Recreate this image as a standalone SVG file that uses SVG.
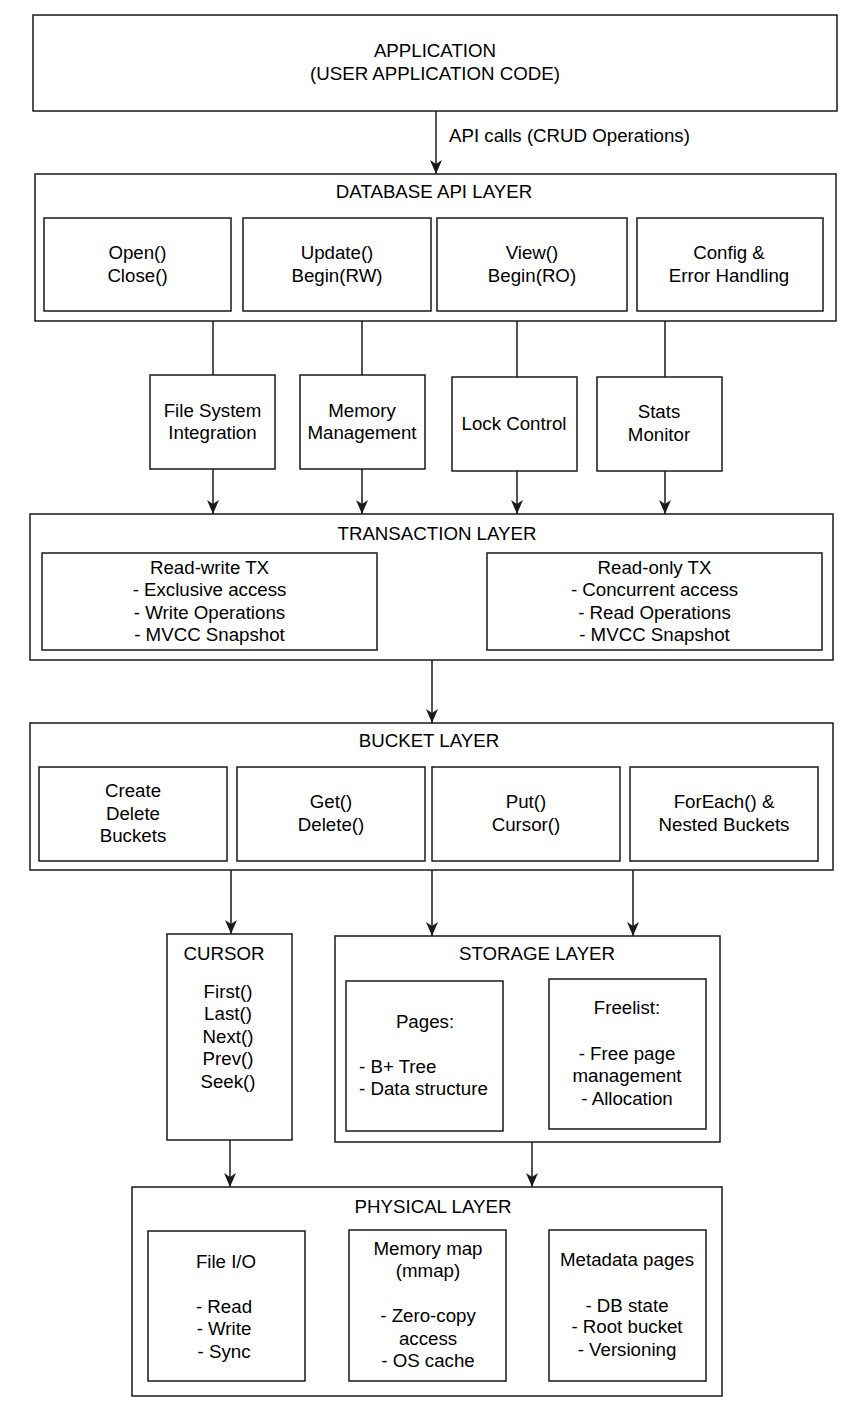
<svg xmlns="http://www.w3.org/2000/svg" width="864" height="1410" viewBox="0 0 864 1410">
<style>
  .box { fill: #ffffff; stroke: #1a1a1a; stroke-width: 1.5; }
  .t { font-family: "Liberation Sans", Arial, Helvetica, sans-serif; font-size: 18.7px; fill: #000; text-anchor: middle; }
  .l { text-anchor: start; }
  .c { stroke: #1a1a1a; stroke-width: 1.5; fill: none; }
  .a { marker-end: url(#arr); }
</style>
<defs>
  <marker id="arr" markerUnits="userSpaceOnUse" markerWidth="14" markerHeight="12" viewBox="0 0 14 12" refX="14" refY="6" orient="auto">
    <path d="M0,0 L14,6 L0,12 L4,6 z" fill="#1a1a1a"/>
  </marker>
</defs>
<rect width="864" height="1410" fill="#ffffff"/>

<g id="application">
  <rect class="box" x="33" y="15" width="804" height="96"/>
  <text class="t" x="435" y="57">APPLICATION</text>
  <text class="t" x="435" y="80">(USER APPLICATION CODE)</text>
</g>

<g id="db-api-layer">
  <rect class="box" x="35" y="174" width="801" height="147"/>
  <text class="t" x="434" y="198">DATABASE API LAYER</text>
  <g id="open-close">
    <rect class="box" x="44" y="218" width="187" height="93"/>
    <text class="t" x="137.5" y="259">Open()</text>
    <text class="t" x="137.5" y="282">Close()</text>
  </g>
  <g id="update">
    <rect class="box" x="243" y="218" width="188" height="93"/>
    <text class="t" x="337" y="259">Update()</text>
    <text class="t" x="337" y="282">Begin(RW)</text>
  </g>
  <g id="view">
    <rect class="box" x="437" y="218" width="190" height="93"/>
    <text class="t" x="532" y="259">View()</text>
    <text class="t" x="532" y="282">Begin(RO)</text>
  </g>
  <g id="config">
    <rect class="box" x="637" y="218" width="186" height="93"/>
    <text class="t" x="729" y="259">Config &amp;</text>
    <text class="t" x="729" y="282">Error Handling</text>
  </g>
</g>

<g id="fs-integration">
  <rect class="box" x="150" y="375" width="125" height="94"/>
  <text class="t" x="212.5" y="417">File System</text>
  <text class="t" x="212.5" y="439">Integration</text>
</g>
<g id="memory-management">
  <rect class="box" x="300" y="375" width="125" height="94"/>
  <text class="t" x="362" y="417">Memory</text>
  <text class="t" x="362" y="439">Management</text>
</g>
<g id="lock-control">
  <rect class="box" x="452" y="377" width="125" height="94"/>
  <text class="t" x="514" y="430">Lock Control</text>
</g>
<g id="stats-monitor">
  <rect class="box" x="597" y="377" width="125" height="94"/>
  <text class="t" x="659" y="418">Stats</text>
  <text class="t" x="659" y="441">Monitor</text>
</g>

<g id="transaction-layer">
  <rect class="box" x="30" y="514" width="803" height="146"/>
  <text class="t" x="437" y="540">TRANSACTION LAYER</text>
  <g id="rw-tx">
    <rect class="box" x="42" y="553" width="335" height="97"/>
    <text class="t" x="209.5" y="574">Read-write TX</text>
    <text class="t" x="209.5" y="596">- Exclusive access</text>
    <text class="t" x="209.5" y="619">- Write Operations</text>
    <text class="t" x="209.5" y="641">- MVCC Snapshot</text>
  </g>
  <g id="ro-tx">
    <rect class="box" x="487" y="553" width="335" height="97"/>
    <text class="t" x="654.5" y="574">Read-only TX</text>
    <text class="t" x="654.5" y="596">- Concurrent access</text>
    <text class="t" x="654.5" y="619">- Read Operations</text>
    <text class="t" x="654.5" y="641">- MVCC Snapshot</text>
  </g>
</g>

<g id="bucket-layer">
  <rect class="box" x="30" y="723" width="803" height="147"/>
  <text class="t" x="429" y="747">BUCKET LAYER</text>
  <g id="create-delete">
    <rect class="box" x="39" y="767" width="188" height="94"/>
    <text class="t" x="133" y="797">Create</text>
    <text class="t" x="133" y="820">Delete</text>
    <text class="t" x="133" y="842">Buckets</text>
  </g>
  <g id="get-delete">
    <rect class="box" x="237" y="767" width="188" height="94"/>
    <text class="t" x="331" y="808">Get()</text>
    <text class="t" x="331" y="831">Delete()</text>
  </g>
  <g id="put-cursor">
    <rect class="box" x="432" y="767" width="188" height="94"/>
    <text class="t" x="526" y="808">Put()</text>
    <text class="t" x="526" y="831">Cursor()</text>
  </g>
  <g id="foreach">
    <rect class="box" x="630" y="767" width="188" height="94"/>
    <text class="t" x="724" y="808">ForEach() &amp;</text>
    <text class="t" x="724" y="831">Nested Buckets</text>
  </g>
</g>

<g id="cursor">
  <rect class="box" x="167" y="934" width="125" height="206"/>
  <text class="t" x="224" y="960">CURSOR</text>
  <text class="t" x="228" y="998">First()</text>
  <text class="t" x="228" y="1020">Last()</text>
  <text class="t" x="228" y="1043">Next()</text>
  <text class="t" x="228" y="1065">Prev()</text>
  <text class="t" x="228" y="1088">Seek()</text>
</g>

<g id="storage-layer">
  <rect class="box" x="335" y="936" width="385" height="206"/>
  <text class="t" x="537" y="960">STORAGE LAYER</text>
  <g id="pages">
    <rect class="box" x="346" y="981" width="157" height="150"/>
    <text class="t" x="425" y="1028">Pages:</text>
    <text class="t l" x="359" y="1073">- B+ Tree</text>
    <text class="t l" x="359" y="1095">- Data structure</text>
  </g>
  <g id="freelist">
    <rect class="box" x="549" y="979" width="157" height="150"/>
    <text class="t" x="627" y="1014">Freelist:</text>
    <text class="t" x="627" y="1060">- Free page</text>
    <text class="t" x="627" y="1082">management</text>
    <text class="t" x="627" y="1105">- Allocation</text>
  </g>
</g>

<g id="physical-layer">
  <rect class="box" x="132" y="1187" width="590" height="209"/>
  <text class="t" x="433" y="1213">PHYSICAL LAYER</text>
  <g id="file-io">
    <rect class="box" x="148" y="1231" width="157" height="150"/>
    <text class="t" x="226" y="1268">File I/O</text>
    <text class="t" x="224" y="1313">- Read</text>
    <text class="t" x="224" y="1335">- Write</text>
    <text class="t" x="224" y="1358">- Sync</text>
  </g>
  <g id="memory-map">
    <rect class="box" x="349" y="1230" width="157" height="151"/>
    <text class="t" x="428" y="1255">Memory map</text>
    <text class="t" x="428" y="1277">(mmap)</text>
    <text class="t" x="428" y="1322">- Zero-copy</text>
    <text class="t" x="428" y="1345">access</text>
    <text class="t" x="428" y="1367">- OS cache</text>
  </g>
  <g id="metadata">
    <rect class="box" x="549" y="1230" width="157" height="151"/>
    <text class="t" x="627" y="1266">Metadata pages</text>
    <text class="t" x="627" y="1312">- DB state</text>
    <text class="t" x="627" y="1333">- Root bucket</text>
    <text class="t" x="627" y="1356">- Versioning</text>
  </g>
</g>

<g id="connectors">
  <line class="c a" x1="436" y1="111" x2="436" y2="174"/>
  <text class="t l" x="449" y="142">API calls (CRUD Operations)</text>

  <line class="c" x1="213" y1="321" x2="213" y2="375"/>
  <line class="c" x1="362" y1="321" x2="362" y2="375"/>
  <line class="c" x1="517" y1="321" x2="517" y2="377"/>
  <line class="c" x1="665" y1="321" x2="665" y2="377"/>

  <line class="c a" x1="213" y1="469" x2="213" y2="514"/>
  <line class="c a" x1="362" y1="469" x2="362" y2="514"/>
  <line class="c a" x1="517" y1="471" x2="517" y2="514"/>
  <line class="c a" x1="665" y1="471" x2="665" y2="514"/>

  <line class="c a" x1="432" y1="660" x2="432" y2="723"/>

  <line class="c a" x1="231" y1="870" x2="231" y2="934"/>
  <line class="c a" x1="432" y1="870" x2="432" y2="936"/>
  <line class="c a" x1="633" y1="870" x2="633" y2="936"/>

  <line class="c a" x1="230" y1="1140" x2="230" y2="1187"/>
  <line class="c a" x1="532" y1="1142" x2="532" y2="1187"/>
</g>
</svg>
